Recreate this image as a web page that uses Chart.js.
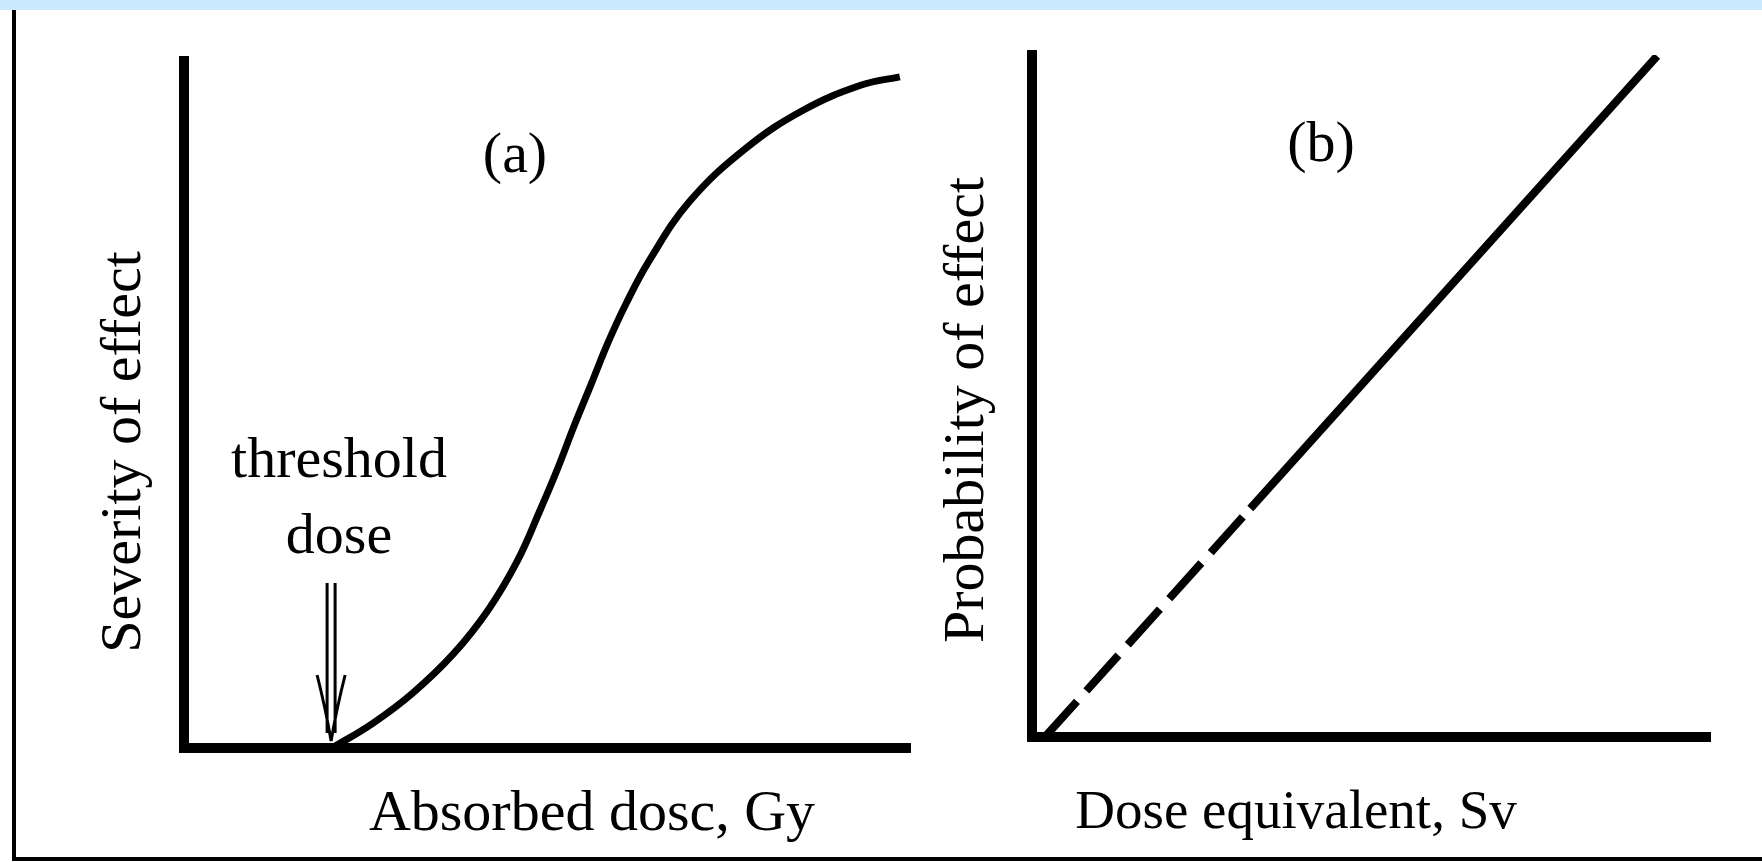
<!DOCTYPE html>
<html>
<head>
<meta charset="utf-8">
<title>Deterministic and stochastic effects</title>
<script src="https://cdn.jsdelivr.net/npm/chart.js@4.4.1/dist/chart.umd.min.js"></script>
<style>
  body { margin: 0; background: #fff; }
  .page { position: relative; width: 1762px; height: 862px; overflow: hidden; background: #fff; }
  .band { position: absolute; left: 0; top: 0; width: 1762px; height: 10px; background: #cbe9fd; }
  .frame-left { position: absolute; left: 12px; top: 10px; width: 4px; height: 851px; background: #000; }
  .frame-bottom { position: absolute; left: 12px; top: 857px; width: 1750px; height: 4px; background: #000; }
  #chartA { position: absolute; left: 0; top: 0; }
  #chartB { position: absolute; left: 930px; top: 0; }
</style>
</head>
<body>
<div class="page">
  <div class="band"></div>
  <div class="frame-left"></div>
  <div class="frame-bottom"></div>
  <canvas id="chartA" width="930" height="862"></canvas>
  <canvas id="chartB" width="832" height="862"></canvas>
</div>
<script>
// (a) deterministic effect, arbitrary units 0-10 on both axes
const doseA = [2.04, 2.60, 3.15, 3.71, 4.19, 4.59, 4.90, 5.14, 5.37, 5.61, 5.84, 6.09, 6.40, 6.96, 7.74, 8.54, 9.33, 9.86]
const severityA = [0, 0.36, 0.80, 1.37, 2.01, 2.72, 3.45, 4.05, 4.68, 5.30, 5.90, 6.47, 7.08, 7.95, 8.73, 9.29, 9.65, 9.77]
const thresholdDose = 2.04
const arrowTop = 2.4

// (b) stochastic effect, linear no-threshold; first stretch dashed
const doseB = [0.19, 3.22, 9.22]
const probabilityB = [0, 3.35, 9.985]

const serif = '"Liberation Serif", "Times New Roman", serif'

const axis = (size, prop) => ({
  type: 'linear',
  min: 0,
  max: 10,
  grid: { display: false },
  ticks: { display: false },
  border: { color: '#000', width: 10 },
  afterFit: scale => { scale[prop] = size }
})

// draws the free text of each panel (captions, panel letter, axis names)
const captions = {
  id: 'captions',
  afterDraw(chart, args, opts) {
    const ctx = chart.ctx
    ctx.save()
    ctx.fillStyle = '#000'
    ctx.textAlign = 'center'
    ctx.textBaseline = 'alphabetic'
    for (const item of opts.items) {
      ctx.save()
      ctx.font = (item.size || 58) + 'px ' + serif
      ctx.translate(item.x, item.y)
      if (item.rotate) ctx.rotate(-Math.PI / 2)
      ctx.fillText(item.text, 0, 0)
      ctx.restore()
    }
    ctx.restore()
  }
}

// double-shafted arrow pointing at the threshold dose
const thresholdArrow = {
  id: 'thresholdArrow',
  afterDatasetsDraw(chart) {
    const { ctx, scales: { x, y } } = chart
    const px = x.getPixelForValue(thresholdDose)
    const tip = y.getPixelForValue(0) - 7
    const top = y.getPixelForValue(arrowTop)
    ctx.save()
    ctx.strokeStyle = '#000'
    ctx.lineWidth = 3
    ctx.beginPath()
    ctx.moveTo(px - 5, top)
    ctx.lineTo(px - 5, tip - 8)
    ctx.moveTo(px + 3, top)
    ctx.lineTo(px + 3, tip - 8)
    ctx.moveTo(px - 15, tip - 66)
    ctx.quadraticCurveTo(px - 6, tip - 30, px - 1, tip)
    ctx.moveTo(px + 13, tip - 66)
    ctx.quadraticCurveTo(px + 4, tip - 30, px - 1, tip)
    ctx.stroke()
    ctx.restore()
  }
}

const baseOptions = {
  responsive: false,
  animation: false,
  events: [],
  plugins: { legend: { display: false }, tooltip: { enabled: false } }
}

new Chart(document.getElementById('chartA'), {
  type: 'line',
  data: {
    datasets: [{
      data: doseA.map((x, i) => ({ x, y: severityA[i] })),
      borderColor: '#000',
      borderWidth: 7,
      pointRadius: 0,
      fill: false,
      tension: 0.4
    }]
  },
  options: {
    ...baseOptions,
    layout: { padding: { left: 0, top: 61, right: 20, bottom: 0 } },
    scales: { x: axis(114, 'height'), y: axis(184, 'width') },
    plugins: {
      ...baseOptions.plugins,
      captions: {
        items: [
          { text: '(a)', x: 515, y: 172 },
          { text: 'threshold', x: 339, y: 477 },
          { text: 'dose', x: 339, y: 553 },
          { text: 'Absorbed dosc, Gy', x: 592, y: 830 },
          { text: 'Severity of effect', x: 140, y: 452, rotate: true }
        ]
      }
    }
  },
  plugins: [captions, thresholdArrow]
})

new Chart(document.getElementById('chartB'), {
  type: 'line',
  data: {
    datasets: [{
      data: doseB.map((x, i) => ({ x, y: probabilityB[i] })),
      borderColor: '#000',
      borderWidth: 8,
      borderCapStyle: 'butt',
      pointRadius: 0,
      fill: false,
      segment: { borderDash: ctx => ctx.p0DataIndex === 0 ? [48, 14] : undefined }
    }]
  },
  options: {
    ...baseOptions,
    layout: { padding: { left: 0, top: 55, right: 52, bottom: 0 } },
    scales: { x: axis(125, 'height'), y: axis(102, 'width') },
    plugins: {
      ...baseOptions.plugins,
      captions: {
        items: [
          { text: '(b)', x: 391, y: 161 },
          { text: 'Dose equivalent, Sv', x: 366, y: 828, size: 55 },
          { text: 'Probability of effect', x: 53, y: 410, rotate: true }
        ]
      }
    }
  },
  plugins: [captions]
})
</script>
</body>
</html>
